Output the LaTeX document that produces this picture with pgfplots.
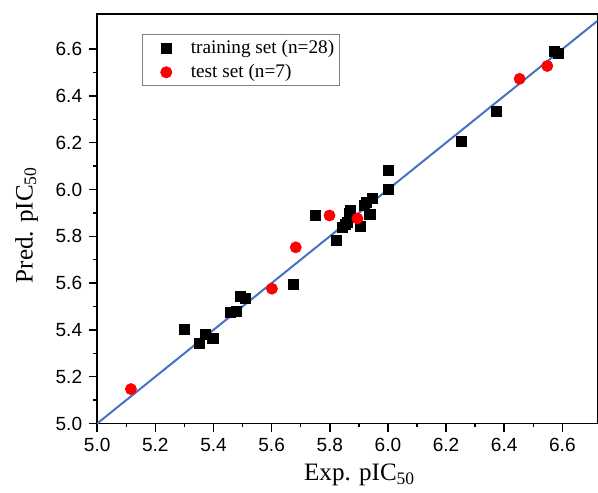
\documentclass[border=0pt]{standalone}
\usepackage{fontspec}
\setmainfont{Liberation Serif}
\newfontfamily\sansfont{Liberation Sans}
\usepackage{pgfplots}
\pgfplotsset{compat=1.18}
\definecolor{fitblue}{HTML}{4472C4}

\begin{document}
\begin{tikzpicture}
\begin{axis}[scale only axis,width=249.5pt,height=204.3pt,
  xmin=5,xmax=6.72,ymin=5,ymax=6.75,
  xtick={5.0,5.2,5.4,5.6,5.8,6.0,6.2,6.4,6.6},
  ytick={5.0,5.2,5.4,5.6,5.8,6.0,6.2,6.4,6.6},
  minor x tick num=1,minor y tick num=1,
  tick pos=left,tick align=outside,
  major tick length=4pt,minor tick length=2pt,
  axis line style={line width=0.75pt},
  every tick/.style={black,line width=0.75pt},
  /pgf/number format/assume math mode=true,
  /pgf/number format/.cd,fixed,fixed zerofill,precision=1,/pgfplots/.cd,
  ticklabel style={font=\fontsize{9.5}{11}\sansfont},
  xlabel={Exp. pIC\textsubscript{50}},ylabel={Pred. pIC\textsubscript{50}},
  label style={font=\fontsize{12.5}{14}\selectfont},
  xlabel style={at={(ticklabel cs:0.525)},yshift=1pt},
  ylabel style={at={(ticklabel cs:0.485)}},
  ylabel shift=2pt,
  legend style={at={(0.09,0.951)},anchor=north west,draw=gray,line width=0.5pt,
    font=\fontsize{9.6}{11}\selectfont,inner xsep=1.5pt,inner ysep=1.2pt,
    row sep=0.8pt,nodes={inner sep=1pt,text height=7pt,text depth=2.2pt}},
  legend image code/.code={\path (-10pt,0) (11pt,0);
    \draw[#1] plot coordinates {(0pt,0pt)};},
  legend cell align=left]
\addplot[only marks,mark=square*,mark size=2.5pt,black] coordinates {
(5.300,5.404) (5.351,5.343) (5.373,5.380) (5.398,5.362)
(5.459,5.473) (5.478,5.480) (5.494,5.544) (5.511,5.536)
(5.675,5.593) (5.749,5.891) (5.823,5.783) (5.844,5.840)
(5.853,5.852) (5.861,5.861) (5.870,5.910) (5.872,5.890)
(5.866,5.900) (5.905,5.843) (5.918,5.933) (5.925,5.945)
(5.938,5.893) (5.945,5.960) (6.002,6.000) (6.002,6.083)
(6.252,6.207) (6.374,6.335) (6.573,6.590) (6.587,6.580)};
\addlegendentry{training set (n=28)}
\addplot[fitblue,line width=1pt,forget plot] coordinates {(5.0,5.0) (6.75,6.75)};
\addplot[only marks,mark=*,mark size=2.75pt,red] coordinates {
(5.116,5.147) (5.601,5.576) (5.683,5.753) (5.799,5.889)
(5.895,5.876) (6.453,6.473) (6.548,6.528)};
\addlegendentry{test set (n=7)}
\end{axis}
\path (current axis.south west) ++(-48.5pt,-32.7pt);
\path (current axis.north west) ++(0,7pt);
\end{tikzpicture}
\end{document}
